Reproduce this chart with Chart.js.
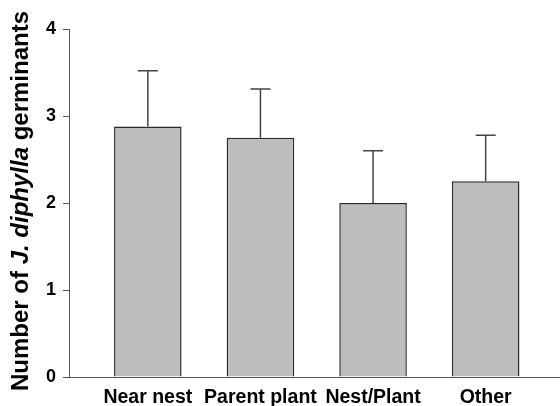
<!DOCTYPE html>
<html>
<head>
<meta charset="utf-8">
<script src="https://cdn.jsdelivr.net/npm/chart.js@4"></script>
<style>
  html, body { margin: 0; padding: 0; background: #fff; }
  #wrap { width: 560px; height: 406px; }
</style>
</head>
<body>
<div id="wrap"><canvas id="germChart" width="560" height="406"></canvas></div>
<script>
// data
const categories = ['Near nest', 'Parent plant', 'Nest/Plant', 'Other'];
const means = [2.88, 2.75, 2.0, 2.25];
const upperErr = [3.52, 3.31, 2.60, 2.78];
const yTicks = [0, 1, 2, 3, 4];

// upper error bars only, with a cap
const errorBars = {
  id: 'errorBars',
  afterDatasetsDraw(chart) {
    const { ctx, scales: { x, y } } = chart;
    ctx.save();
    ctx.strokeStyle = '#444';
    ctx.lineWidth = 1.5;
    means.forEach((m, i) => {
      const px = x.getPixelForValue(i);
      const top = y.getPixelForValue(upperErr[i]);
      ctx.beginPath();
      ctx.moveTo(px, y.getPixelForValue(m));
      ctx.lineTo(px, top);
      ctx.moveTo(px - 10, top);
      ctx.lineTo(px + 10, top);
      ctx.stroke();
    });
    ctx.restore();
  }
};

// y title with italic species name
const yTitle = {
  id: 'yTitle',
  afterDraw(chart) {
    const { ctx } = chart;
    const fam = '"Liberation Sans", Arial, sans-serif';
    const parts = [
      ['Number of ', 'bold 24px ' + fam],
      ['J. diphylla', 'italic bold 24px ' + fam],
      [' germinants', 'bold 24px ' + fam]
    ];
    ctx.save();
    let total = 0;
    const widths = parts.map(([t, f]) => { ctx.font = f; const w = ctx.measureText(t).width; total += w; return w; });
    ctx.translate(21, 201);
    ctx.rotate(-Math.PI / 2);
    ctx.fillStyle = '#000';
    ctx.textBaseline = 'middle';
    ctx.textAlign = 'left';
    let xPos = -total / 2;
    parts.forEach(([t, f], i) => {
      ctx.font = f;
      ctx.fillText(t, xPos, 0);
      xPos += widths[i];
    });
    ctx.restore();
  }
};

const ctx = document.getElementById('germChart');

new Chart(ctx, {
  type: 'bar',
  data: {
    datasets: [{
      data: means.map((v, i) => ({ x: i, y: v })),
      backgroundColor: '#bdbdbd',
      borderColor: '#2b2b2b',
      borderWidth: 1.5,
      borderSkipped: 'bottom',
      barPercentage: 0.6,
      categoryPercentage: 1
    }]
  },
  options: {
    responsive: false,
    animation: false,
    layout: { padding: { top: 29, right: 0, left: 0, bottom: 0 } },
    plugins: { legend: { display: false }, tooltip: { enabled: false } },
    scales: {
      x: {
        type: 'linear',
        offset: false,
        min: -0.7,
        max: 3.66,
        afterBuildTicks(scale) {
          scale.ticks = categories.map((c, i) => ({ value: i }));
        },
        afterFit(scale) { scale.height = 29; },
        grid: { display: false, drawTicks: false },
        border: { display: true, color: '#555', width: 1 },
        ticks: {
          padding: 9,
          color: '#000',
          font: { family: '"Liberation Sans", Arial, sans-serif', size: 19.5, weight: 'bold' },
          maxRotation: 0,
          autoSkip: false,
          callback: (v) => categories[v]
        }
      },
      y: {
        min: 0,
        max: 4,
        afterBuildTicks(scale) {
          scale.ticks = yTicks.map(v => ({ value: v }));
        },
        afterFit(scale) { scale.width = 69; },
        grid: { drawOnChartArea: false, drawTicks: true, tickLength: 6, color: '#555' },
        border: { display: true, color: '#555', width: 1 },
        ticks: {
          padding: 7,
          color: '#000',
          font: { family: '"Liberation Sans", Arial, sans-serif', size: 18, weight: 'bold' }
        }
      }
    }
  },
  plugins: [errorBars, yTitle]
});
</script>
</body>
</html>
